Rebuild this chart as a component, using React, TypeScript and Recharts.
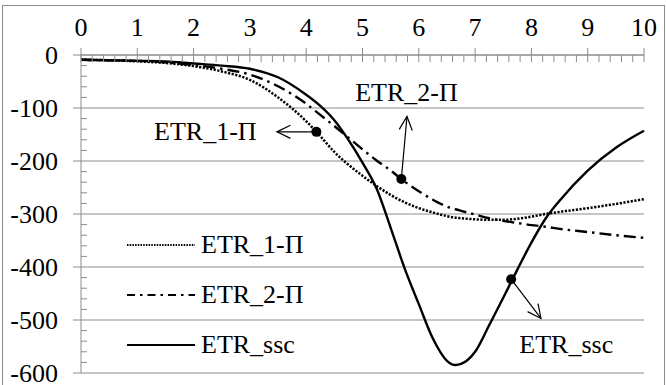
import React from "react";
import {
  LineChart,
  Line,
  XAxis,
  YAxis,
  CartesianGrid,
  Legend,
  ReferenceDot,
  ReferenceLine,
} from "recharts";

const FONT = '"Liberation Serif", "Times New Roman", serif';
const AXIS = "#8c8c8c";
const INK = "#000";

const xValues = [
  0, 0.5, 1, 1.5, 2, 2.5, 3, 3.5, 4, 4.25, 4.5, 4.75, 5, 5.25, 5.5, 5.75, 6,
  6.25, 6.5, 6.65, 6.75, 7, 7.25, 7.5, 7.75, 8, 8.25, 8.5, 9, 9.5, 10,
];
const etr1 = [
  -9, -10, -12, -15, -21, -31, -47, -80, -125, -153, -183, -207, -228, -247,
  -264, -278, -289, -297, -304, -307, -308, -310, -311, -311, -309, -305, -300,
  -296, -289, -281, -272,
];
const etr2 = [
  -9, -10, -11, -14, -19, -26, -37, -59, -92, -113, -134, -156, -178, -199,
  -218, -239, -257, -273, -286, -291, -294, -301, -308, -313, -317, -321, -324,
  -328, -334, -340, -345,
];
const etrSsc = [
  -9, -10, -11, -12, -16, -20, -26, -42, -75, -96, -123, -160, -203, -252,
  -326, -403, -470, -535, -577, -585, -583, -560, -510, -458, -405, -354, -309,
  -275, -218, -175, -143,
];

const xTickLabels = [0, 1, 2, 3, 4, 5, 6, 7, 8, 9, 10];
const yTickLabels = [0, -100, -200, -300, -400, -500, -600];
const X_MINOR = 0.2;
const Y_MINOR = 20;

const SERIES = [
  { key: "etr1", name: "ETR_1-\u03A0", dash: "2.2 1.5", width: 2.5 },
  { key: "etr2", name: "ETR_2-\u03A0", dash: "12 5 2.5 5", width: 2.4 },
  { key: "ssc", name: "ETR_ssc", dash: undefined, width: 2.4 },
];

// annotation points: dot, arrow tip, label anchor
const notes = [
  { name: "ETR_1-\u03A0", dot: [4.18, -145], tip: [3.48, -145], label: [3.12, -145], anchor: "end" },
  { name: "ETR_2-\u03A0", dot: [5.69, -234], tip: [5.79, -116], label: [5.78, -71], anchor: "middle" },
  { name: "ETR_ssc", dot: [7.64, -423], tip: [8.17, -497], label: [8.62, -547], anchor: "middle" },
];

const data = xValues.map((x, i) => ({
  x,
  etr1: etr1[i],
  etr2: etr2[i],
  ssc: etrSsc[i],
}));

const xTicks = Array.from({ length: 51 }, (_, i) => Math.round(i * X_MINOR * 10) / 10);
const yTicks = Array.from({ length: 31 }, (_, i) => -600 + i * Y_MINOR);

function XTick(props: any) {
  const { x, y, payload } = props;
  const major = xTickLabels.includes(payload.value);
  return (
    <g>
      <line x1={x} x2={x} y1={major ? y - 7 : y} y2={y + 7} stroke={AXIS} strokeWidth={1} />
      {major && (
        <text x={x} y={y - 28} textAnchor="middle" dominantBaseline="central" fontFamily={FONT} fontSize={26} fill={INK}>
          {payload.value}
        </text>
      )}
    </g>
  );
}

function YTick(props: any) {
  const { x, y, payload } = props;
  const major = yTickLabels.includes(payload.value);
  return (
    <g>
      <line x1={major ? x - 8 : x} x2={major ? x : x + 6} y1={y} y2={y} stroke={AXIS} strokeWidth={1} />
      {major && (
        <text x={x - 23} y={y} textAnchor="end" dominantBaseline="central" fontFamily={FONT} fontSize={26} fill={INK}>
          {payload.value}
        </text>
      )}
    </g>
  );
}

function Arrow(props: any) {
  const { x1, y1, x2, y2 } = props;
  const ang = Math.atan2(y2 - y1, x2 - x1);
  const len = 15;
  const spread = 0.45;
  const a = [x2 - len * Math.cos(ang - spread), y2 - len * Math.sin(ang - spread)];
  const b = [x2 - len * Math.cos(ang + spread), y2 - len * Math.sin(ang + spread)];
  return (
    <g>
      <line x1={x1} y1={y1} x2={x2} y2={y2} stroke={INK} strokeWidth={1.2} />
      <polyline points={`${a[0]},${a[1]} ${x2},${y2} ${b[0]},${b[1]}`} fill="none" stroke={INK} strokeWidth={1.2} />
    </g>
  );
}

function LegendBox() {
  return (
    <div style={{ fontFamily: FONT, fontSize: 26, color: INK }}>
      {SERIES.map((s) => (
        <div key={s.key} style={{ display: "flex", alignItems: "center", height: 50 }}>
          <svg width={68} height={10} style={{ marginRight: 6 }}>
            <line x1={0} x2={68} y1={5} y2={5} stroke={INK} strokeWidth={s.key === "etr1" ? 1.8 : 2.2} strokeDasharray={s.key === "etr1" ? "1.5 1.2" : s.key === "etr2" ? "8 5 2.5 5" : undefined} />
          </svg>
          <span style={{ lineHeight: "26px" }}>{s.name}</span>
        </div>
      ))}
    </div>
  );
}

export default function App() {
  return (
    <div style={{ position: "absolute", left: 0, top: 0, width: 666, height: 385, background: "#fff" }}>
      <div
        style={{
          position: "absolute",
          left: 2,
          top: 5,
          width: 663,
          height: 385,
          border: `1px solid ${AXIS}`,
          boxSizing: "border-box",
        }}
      />
      <LineChart
        width={666}
        height={385}
        data={data}
        margin={{ top: 0, right: 22, bottom: 12, left: 0 }}
        style={{ position: "absolute", left: 0, top: 0 }}
      >
        <CartesianGrid vertical={false} horizontalValues={yTickLabels} stroke={AXIS} strokeWidth={1} />
        <XAxis
          dataKey="x"
          type="number"
          orientation="top"
          domain={[0, 10]}
          ticks={xTicks}
          interval={0}
          height={55}
          tickSize={0}
          tickMargin={0}
          tickLine={false}
          axisLine={{ stroke: AXIS }}
          tick={<XTick />}
        />
        <YAxis
          type="number"
          domain={[-600, 0]}
          ticks={yTicks}
          interval={0}
          width={81}
          tickSize={0}
          tickMargin={0}
          tickLine={false}
          axisLine={{ stroke: AXIS }}
          tick={<YTick />}
        />
        <Legend
          layout="vertical"
          align="center"
          verticalAlign="middle"
          wrapperStyle={{ left: 127, top: 220, width: "auto", height: "auto" }}
          content={<LegendBox />}
        />
        {SERIES.map((s) => (
          <Line
            key={s.key}
            type="monotone"
            dataKey={s.key}
            name={s.name}
            stroke={INK}
            strokeWidth={s.width}
            strokeDasharray={s.dash}
            dot={false}
            activeDot={false}
            isAnimationActive={false}
          />
        ))}
        {notes.map((n) => (
          <ReferenceLine
            key={n.name + "-arrow"}
            segment={[
              { x: n.dot[0], y: n.dot[1] },
              { x: n.tip[0], y: n.tip[1] },
            ]}
            shape={(p: any) => <Arrow {...p} />}
          />
        ))}
        {notes.map((n) => (
          <ReferenceDot key={n.name + "-dot"} x={n.dot[0]} y={n.dot[1]} r={5} fill={INK} stroke="none" />
        ))}
        {notes.map((n) => (
          <ReferenceDot
            key={n.name + "-label"}
            x={n.label[0]}
            y={n.label[1]}
            shape={(p: any) => (
              <text x={p.cx} y={p.cy} textAnchor={n.anchor} dominantBaseline="central" fontFamily={FONT} fontSize={26} fill={INK}>
                {n.name}
              </text>
            )}
          />
        ))}
      </LineChart>
    </div>
  );
}
